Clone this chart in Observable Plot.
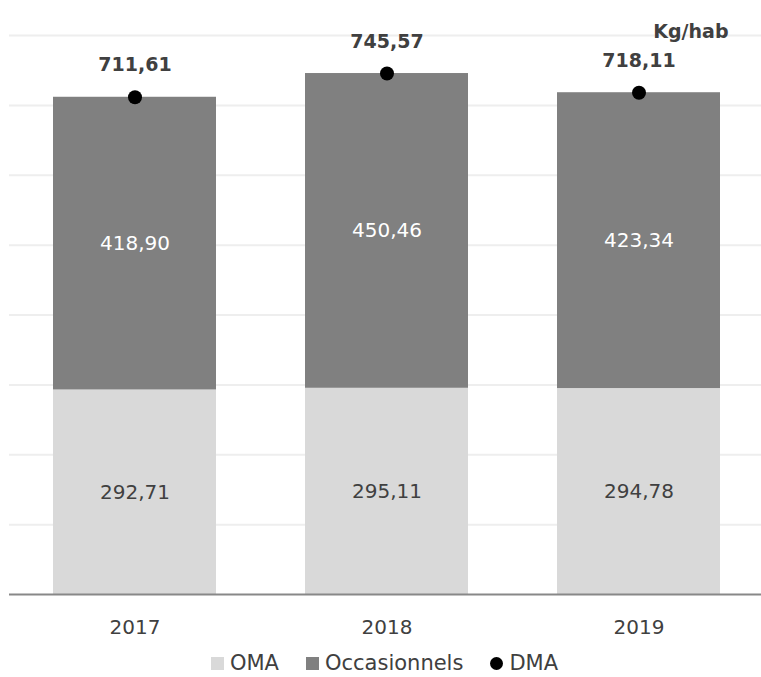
<!DOCTYPE html>
<html>
<head>
<meta charset="utf-8">
<script src="https://cdn.jsdelivr.net/npm/d3@7"></script>
<script src="https://cdn.jsdelivr.net/npm/@observablehq/plot@0.6"></script>
<style>
  body { margin: 0; background: #fff; font-family: "DejaVu Sans", sans-serif; }
  #legend { display: flex; justify-content: center; align-items: center; gap: 27px; height: 24px; padding-top: 11px; font-size: 21px; color: #404040; padding-left: 8px; line-height: 24px; }
  #legend span.item { display: inline-flex; align-items: center; gap: 6px; }
  #legend i { display: inline-block; width: 13px; height: 13px; }
</style>
</head>
<body>
<div id="chart"></div>
<div id="legend"></div>
<script>
const years = ["2017", "2018", "2019"];
const series = ["OMA", "Occasionnels"];
const oma = [292.71, 295.11, 294.78];
const occasionnels = [418.90, 450.46, 423.34];
const dma = [711.61, 745.57, 718.11];
const yTicks = [0, 100, 200, 300, 400, 500, 600, 700, 800];
const unitLabel = "Kg/hab";

const colors = {OMA: "#d9d9d9", Occasionnels: "#808080"};
const labelColors = {OMA: "#404040", Occasionnels: "#ffffff"};

const rows = [];
years.forEach((y, i) => {
  rows.push({year: y, series: "OMA", value: oma[i]});
  rows.push({year: y, series: "Occasionnels", value: occasionnels[i]});
});
const totals = years.map((y, i) => ({year: y, value: dma[i]}));
const fmt = v => v.toFixed(2).replace(".", ",");

const chart = Plot.plot({
  width: 761,
  height: 640,
  marginTop: 35,
  marginBottom: 46,
  marginLeft: 9,
  marginRight: -4,
  style: {fontFamily: "DejaVu Sans, sans-serif", background: "#fff"},
  x: {domain: years, paddingInner: 0.352, paddingOuter: 0.176, align: 0.5, label: null},
  y: {domain: [0, 800], label: null, axis: null},
  color: {domain: series, range: series.map(s => colors[s])},
  marks: [
    Plot.ruleY(yTicks.slice(1), {stroke: "#eeeeee", strokeWidth: 2}),
    Plot.barY(rows, Plot.stackY({x: "year", y: "value", fill: "series", order: series})),
    Plot.text(rows, Plot.stackY({
      x: "year", y: "value", z: "series", order: series,
      text: d => fmt(d.value),
      fill: d => labelColors[d.series],
      fontSize: 20
    })),
    Plot.ruleY([0], {stroke: "#888888", strokeWidth: 2}),
    Plot.axisX({tickSize: 0, tickPadding: 25, fontSize: 20, fill: "#404040", label: null}),
    Plot.dot(totals, {x: "year", y: "value", r: 7, fill: "black"}),
    Plot.text(totals, {x: "year", y: "value", text: d => fmt(d.value), dy: -32, fontSize: 19, fontWeight: "bold", fill: "#404040"}),
    Plot.text([unitLabel], {frameAnchor: "top-right", text: d => d, dx: -37, dy: -11, textAnchor: "end", fontSize: 19, fontWeight: "bold", fill: "#404040"})
  ]
});
document.getElementById("chart").append(chart);

const legend = document.getElementById("legend");
const legendItems = [
  {label: "OMA", color: colors.OMA, shape: "square"},
  {label: "Occasionnels", color: colors.Occasionnels, shape: "square"},
  {label: "DMA", color: "#000", shape: "circle"}
];
legendItems.forEach(it => {
  const s = document.createElement("span");
  s.className = "item";
  const sw = document.createElement("i");
  sw.style.background = it.color;
  if (it.shape === "circle") sw.style.borderRadius = "50%";
  s.append(sw, document.createTextNode(it.label));
  legend.append(s);
});
</script>
</body>
</html>
